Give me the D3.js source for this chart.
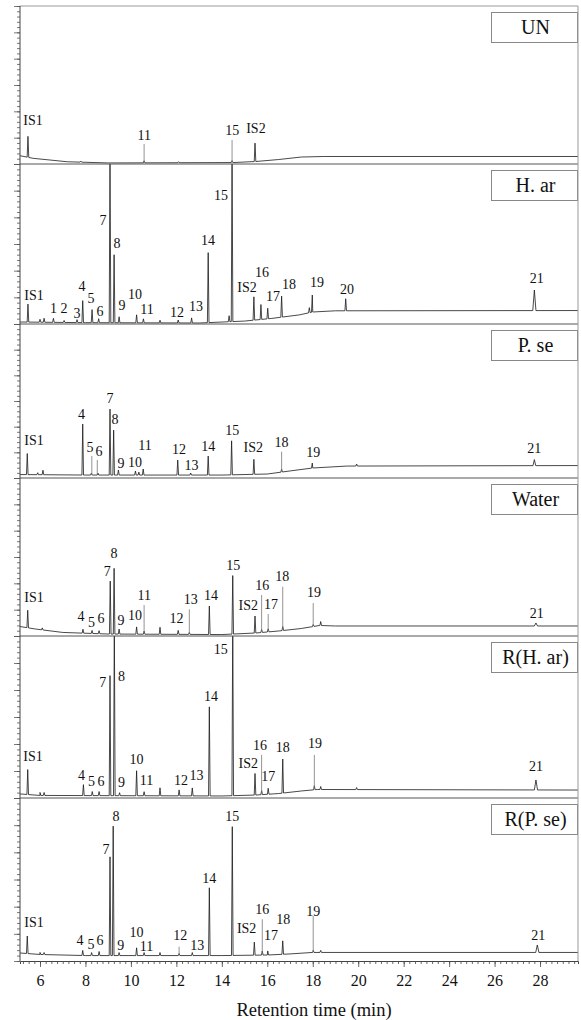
<!DOCTYPE html>
<html><head><meta charset="utf-8">
<script src="https://cdn.jsdelivr.net/npm/d3@7"></script>
<style>body{margin:0;background:#fff} svg{display:block} svg text{font-family:'Liberation Serif','DejaVu Serif','Times New Roman',serif !important;fill:#111}</style>
</head><body><div id="chart"></div>
<script>
// ---------------- DATA ----------------
const panelNames = ["UN", "H. ar", "P. se", "Water", "R(H. ar)", "R(P. se)"];
const xMajorTicks = [6, 8, 10, 12, 14, 16, 18, 20, 22, 24, 26, 28];
const xTitle = "Retention time (min)";

// baselines: [time, level]; peaks: [time, height above baseline, half width]; labels: [text, time, level]; leaders: [time, top level]
const unBaseline = [[5.12,6.3],[5.7,4.3],[7.2,1.7],[9.0,0.8],[14.5,1.1],[15.5,1.9],[16.5,3.4],[17.5,5.3],[18.5,5.7],[29.67,5.7]];
const unPeaks = [[5.47,15.9],[7.8,0.8],[10.58,1.5],[12.1,0.8],[14.45,1.5],[15.46,14]];
const unLabels = [["IS1",5.69,33.4],["11",10.59,22],["15",14.46,25.8],["IS2",15.50,27.1]];
const unLeaders = [[10.58,15.2],[14.45,18.2]];

const harBaseline = [[5.12,1.5],[8,1.0],[13,0.75],[15,2.2],[16.2,4.2],[17.4,6.8],[18.0,9.0],[19,9.9],[29.67,10.1]];
const harPeaks = [[5.47,13.5],[6.0,2.2],[6.18,3],[6.59,3],[7.06,1.5],[7.63,2.2],[7.88,16.5],[8.29,9.8],[8.58,3],[9.08,130],[9.26,51],[9.48,4.5],[10.25,6],[10.55,3],[11.28,2],[12.08,2.2],[12.67,3.8],[13.40,52.5],[14.32,4.5],[14.45,130],[15.41,17.5],[15.72,11.2],[16.02,7.9],[16.63,15.8],[17.85,3.8],[17.98,12.8],[19.45,9],[27.75,15.4,0.07]];
const harLabels = [["IS1",5.74,21.75],["1",6.59,12],["2",7.06,12],["3",7.63,8.25],["4",7.85,28.5],["5",8.24,19.5],["6",8.64,9.75],["7",8.77,78],["8",9.39,60.75],["9",9.61,14.25],["10",10.18,22.5],["11",10.71,11.25],["12",12.03,9],["13",12.86,13.5],["14",13.39,63],["15",13.96,96.75],["IS2",15.11,27.75],["16",15.77,39],["17",16.25,21],["18",16.95,30],["19",18.19,31.5],["20",19.51,26.25],["21",27.85,34.5]];
const harLeaders = [];

const pseBaseline = [[5.12,2.7],[8,2.3],[14,2.3],[16,3.1],[17,5.5],[18,7.8],[19.5,9.3],[29.67,9.7]];
const psePeaks = [[5.44,16.4],[5.9,1.5],[6.13,3.5],[7.88,39.7],[8.26,1.5],[8.55,1.5],[9.08,51.4],[9.24,35],[9.45,3.9],[10.2,3.1],[10.35,2.3],[10.54,4.7],[12.06,11.7],[12.63,1.6],[13.40,14.8],[14.43,26.5],[15.41,11.7],[16.63,2.3],[17.98,3.9],[19.93,1.6],[27.75,4.7,0.06]];
const pseLabels = [["IS1",5.74,29.6],["4",7.83,49.6],["5",8.20,23.6],["6",8.60,20.5],["7",9.08,62.1],["8",9.30,45.7],["9",9.56,11.4],["10",10.18,11.9],["11",10.62,25.7],["12",12.12,22.4],["13",12.67,10.1],["14",13.40,24.4],["15",14.46,36.8],["IS2",15.38,23.6],["18",16.63,27.8],["19",18.02,19.7],["21",27.75,23.1]];
const pseLeaders = [[8.28,17.1],[8.52,14],[16.63,20.5]];

const waterBaseline = [[5.12,7.2],[5.8,5.3],[7,2.7],[9,1.5],[14,1.1],[15.5,2.3],[16.5,3.8],[17.5,5.7],[18.3,8],[19,7.6],[29.67,7.6]];
const waterPeaks = [[5.46,13.3],[6.1,1.5],[7.89,3],[8.29,2.3],[8.6,2.3],[9.09,40.2],[9.26,49.9],[9.48,3.8],[10.25,5.5],[10.58,2.3],[11.28,5.3],[12.08,3],[12.57,1.5],[13.45,21.6],[14.48,44.4],[15.46,12.9],[15.75,2.3],[16.04,2.3],[16.68,3],[18.02,1.5],[18.35,3],[27.82,2.3,0.07]];
const waterLabels = [["IS1",5.74,29.1],["4",7.80,14.6],["5",8.27,10.1],["6",8.68,13.4],["7",8.96,49.3],["8",9.26,62.8],["9",9.56,11.6],["10",10.18,15.9],["11",10.59,31.1],["12",12.01,13.4],["13",12.63,27.9],["14",13.52,31.1],["15",14.50,53.9],["IS2",15.16,23.5],["16",15.78,38.7],["17",16.16,24.3],["18",16.66,45.5],["19",18.05,32.9],["21",27.85,17.2]];
const waterLeaders = [[10.58,23.5],[12.57,20.3],[15.75,31.1],[16.04,16.7],[16.68,37.4],[18.02,25]];

const rharBaseline = [[5.12,3],[6,1.9],[14,1.5],[15.5,2.2],[16.5,3.3],[17.5,5.2],[18.2,6.3],[29.67,5.9]];
const rharPeaks = [[5.46,18.5],[6.0,2.2],[6.18,2.2],[7.91,8.1],[8.30,3],[8.6,3],[9.08,88.9],[9.27,130],[9.5,2.2],[10.25,18.5],[10.58,3],[11.28,5.9],[12.12,4.4],[12.70,5.9],[13.45,66],[14.48,130],[15.46,16],[15.75,3],[16.04,4.4],[16.68,25.2],[18.07,3],[18.35,2.2],[19.93,1.5],[27.82,7.4,0.07]];
const rharLabels = [["IS1",5.69,30.6],["4",7.83,16.5],["5",8.27,12.1],["6",8.68,12.1],["7",8.76,85.4],["8",9.59,90.4],["9",9.59,11.3],["10",10.25,28.9],["11",10.69,12.8],["12",12.20,12.8],["13",12.89,17],["14",13.52,75.6],["15",13.95,110.4],["IS2",15.16,25.7],["16",15.68,38.8],["17",16.04,15.8],["18",16.68,37.6],["19",18.10,40.5],["21",27.82,23.2]];
const rharLeaders = [[15.75,31.9],[18.07,31.9]];

const rpseBaseline = [[5.12,5.9],[6,4.8],[8,4],[14,4],[16,4.4],[17,5.2],[18,6.3],[29.67,6.3]];
const rpsePeaks = [[5.44,12.9],[6.0,1.5],[6.18,1.5],[7.88,3.7],[8.27,2.2],[8.6,3],[9.08,72.7],[9.22,95.3],[9.48,2.2],[10.25,5.7],[10.58,2.2],[11.28,2.2],[12.12,1.5],[12.70,2.2],[13.45,49.9],[14.46,94.8],[15.43,9.6],[15.78,3],[16.02,3],[16.68,9.9],[18.02,1.5],[18.35,1.5],[27.88,5.5,0.07]];
const rpseLabels = [["IS1",5.74,28.2],["4",7.76,14.9],["5",8.24,12.5],["6",8.64,14.9],["7",8.90,82.2],["8",9.34,106.7],["9",9.55,11.8],["10",10.25,21.1],["11",10.69,10.5],["12",12.17,18.6],["13",12.92,11.3],["14",13.45,60.9],["15",14.46,106.7],["IS2",15.09,24.1],["16",15.78,38.1],["17",16.16,19.1],["18",16.70,30.9],["19",18.02,36.3],["21",27.92,19.1]];
const rpseLeaders = [[12.12,10.5],[15.78,30.7],[18.02,33.1]];

// ---------------- LAYOUT ----------------
const W = 581, H = 1020;
const left = 20, right = 578;
const panelTops = [6, 164, 324, 478, 636, 798];
const plotBottom = 961;
const xDomain = [5.12, 29.67];
const SERIF = "'Liberation Serif','DejaVu Serif','Times New Roman',serif";

const panels = [
  {base: unBaseline, peaks: unPeaks, labels: unLabels, leaders: unLeaders},
  {base: harBaseline, peaks: harPeaks, labels: harLabels, leaders: harLeaders},
  {base: pseBaseline, peaks: psePeaks, labels: pseLabels, leaders: pseLeaders},
  {base: waterBaseline, peaks: waterPeaks, labels: waterLabels, leaders: waterLeaders},
  {base: rharBaseline, peaks: rharPeaks, labels: rharLabels, leaders: rharLeaders},
  {base: rpseBaseline, peaks: rpsePeaks, labels: rpseLabels, leaders: rpseLeaders}
];

const svg = d3.select("#chart").append("svg").attr("width", W).attr("height", H)
  .attr("font-family", SERIF);
const x = d3.scaleLinear().domain(xDomain).range([left, right]);
const defs = svg.append("defs");

panels.forEach((p, i) => {
  const top = panelTops[i];
  const bottom = i < panels.length - 1 ? panelTops[i + 1] : plotBottom;
  const y = d3.scaleLinear().domain([0, 120]).range([bottom, top]);
  const base = d3.scaleLinear().domain(p.base.map(d => d[0])).range(p.base.map(d => d[1])).clamp(true);

  defs.append("clipPath").attr("id", "clip" + i)
    .append("rect").attr("x", left).attr("y", top).attr("width", right - left).attr("height", bottom - top);

  const g = svg.append("g");

  // trace
  const pts = p.base.map(d => [d[0], d[1]]);
  p.peaks.forEach(pk => {
    const t = pk[0], h = pk[1], w = pk[2] || 0.035;
    pts.push([t - w, base(t - w)], [t, base(t) + h], [t + w, base(t + w)]);
  });
  pts.sort((a, b) => a[0] - b[0]);
  g.append("path")
    .attr("clip-path", `url(#clip${i})`)
    .attr("d", d3.line().x(d => x(d[0])).y(d => y(d[1]))(pts))
    .attr("fill", "none").attr("stroke", "#1a1a1a").attr("stroke-width", 0.8)
    .attr("stroke-linejoin", "miter");

  // leader lines
  g.selectAll("line.leader").data(p.leaders).join("line")
    .attr("class", "leader")
    .attr("x1", d => x(d[0])).attr("x2", d => x(d[0]))
    .attr("y1", d => y(d[1])).attr("y2", d => y(base(d[0]) + 0.5))
    .attr("stroke", "#777").attr("stroke-width", 0.8);

  // peak labels
  g.selectAll("text.pl").data(p.labels).join("text")
    .attr("class", "pl")
    .attr("x", d => x(d[1])).attr("y", d => y(d[2]) + 4.7)
    .attr("text-anchor", "middle").attr("font-size", 14).attr("font-family", SERIF)
    .text(d => d[0]);

  // y ticks (left, outside)
  const yMinor = d3.axisLeft(y).tickValues(d3.range(0, 121, 4)).tickSize(3).tickFormat("");
  const yMajor = d3.axisLeft(y).tickValues(d3.range(0, 121, 20)).tickSize(6).tickFormat("");
  [yMinor, yMajor].forEach(ax => {
    const a = svg.append("g").attr("transform", `translate(${left},0)`).call(ax);
    a.select(".domain").remove();
    a.selectAll("line").attr("stroke", "#555").attr("stroke-width", 0.8);
  });

  // separator / top border
  svg.append("line").attr("x1", left).attr("x2", right).attr("y1", top).attr("y2", top)
    .attr("stroke", i === 0 ? "#999" : "#555").attr("stroke-width", 1);

  // name box
  const bx = 491.5, by = top + 6.5, bw = 86, bh = 30;
  svg.append("rect").attr("x", bx).attr("y", by).attr("width", bw).attr("height", bh)
    .attr("fill", "#fff").attr("stroke", "#888").attr("stroke-width", 1);
  svg.append("text").attr("x", bx + bw / 2 + 1).attr("y", by + bh / 2 + 6.6)
    .attr("text-anchor", "middle").attr("font-size", 20).attr("font-family", SERIF).text(panelNames[i]);
});

// frame lines
svg.append("line").attr("x1", left).attr("x2", left).attr("y1", panelTops[0]).attr("y2", plotBottom)
  .attr("stroke", "#444").attr("stroke-width", 1);
svg.append("line").attr("x1", right).attr("x2", right).attr("y1", panelTops[0]).attr("y2", plotBottom)
  .attr("stroke", "#999").attr("stroke-width", 1);

// x axis
const xMinorTicks = d3.range(5.25, 29.6, 0.25);
const xMinorAx = svg.append("g").attr("transform", `translate(0,${plotBottom})`)
  .call(d3.axisBottom(x).tickValues(xMinorTicks).tickSize(3).tickFormat(""));
xMinorAx.select(".domain").attr("stroke", "#444");
xMinorAx.selectAll("line").attr("stroke", "#444").attr("stroke-width", 0.8);
const xMajorAx = svg.append("g").attr("transform", `translate(0,${plotBottom})`)
  .call(d3.axisBottom(x).tickValues(xMajorTicks).tickSize(6).tickPadding(8).tickFormat(d3.format("d")));
xMajorAx.attr("font-family", SERIF);
xMajorAx.select(".domain").remove();
xMajorAx.selectAll("line").attr("stroke", "#444").attr("stroke-width", 0.8);
xMajorAx.selectAll("text").attr("font-size", 16).attr("font-family", SERIF).attr("fill", "#111");

svg.append("text").attr("x", 314).attr("y", 1016).attr("text-anchor", "middle")
  .attr("font-size", 18.5).attr("font-family", SERIF).text(xTitle);
</script>
</body></html>
